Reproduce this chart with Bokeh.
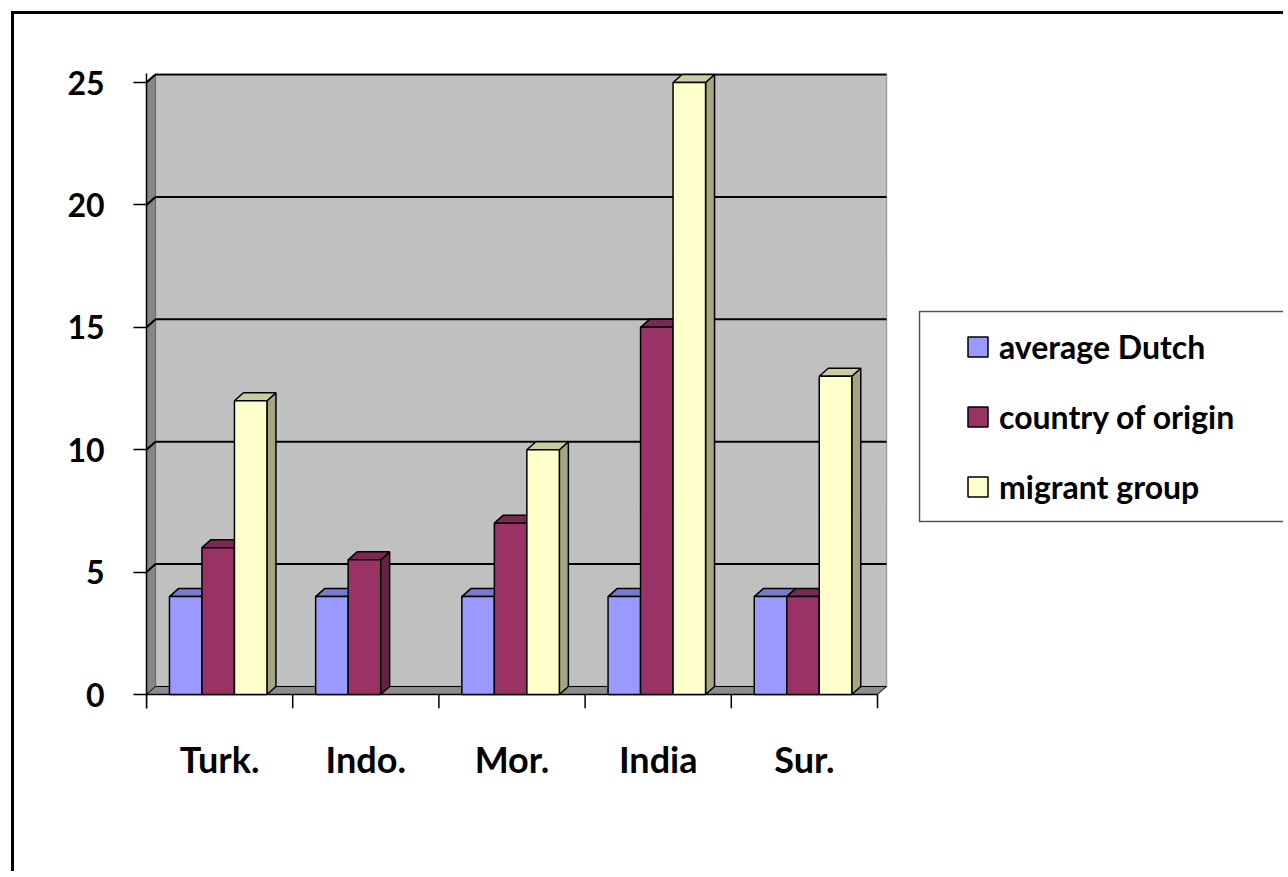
import math
from bokeh.plotting import figure
from bokeh.models import Range1d, FixedTicker, Legend, LegendItem
from bokeh.embed import file_html
from bokeh.resources import INLINE

# ---- data ----
categories = ["Turk.", "Indo.", "Mor.", "India", "Sur."]
average_dutch = [4, 4, 4, 4, 4]
country_of_origin = [6, 5.5, 7, 15, 4]
migrant_group = [12, float("nan"), 10, 25, 13]
series_names = ["average Dutch", "country of origin", "migrant group"]
y_ticks = [0, 5, 10, 15, 20, 25]

# ---- styles ----
front_colors = ["#9999FF", "#993366", "#FFFFCC"]
top_colors = ["#7A7ACC", "#7A2952", "#CCCCA3"]
side_colors = ["#6B6BB3", "#662244", "#A5A582"]
FONT = "Lato"

W, H = 1272, 860
FL, FT, FB = 132, 59, 694          # frame edges (figure px)
PXU_X, PXU_Y = 146.2, 24.48        # px per data unit
n = len(categories)
DX = 9 / PXU_X                     # 3D depth (x)
DY = 8 / PXU_Y                     # 3D depth (y)
y_top = 25.37
y_bot = -14 / PXU_Y
x_end = (W - FL) / PXU_X
wall_right = n + DX
BW = 0.2223
BOFF = 0.157

# legend box (px from frame left / from the y=0 line)
LEG_L, LEG_TOP, LEG_BOT = 773, 383, 173

p = figure(width=W, height=H, x_range=Range1d(0, x_end), y_range=Range1d(y_bot, y_top),
           output_backend="svg", toolbar_location=None,
           min_border_left=FL, min_border_top=FT, min_border_right=0,
           min_border_bottom=H - FB,
           styles={"border-top": "3px solid black", "border-left": "3px solid black",
                   "margin-left": "11px", "margin-top": "11px"})
p.outline_line_color = None
p.xgrid.visible = False
p.ygrid.visible = False
p.background_fill_color = "white"

# ---- 3D walls ----
p.quad(left=DX, right=wall_right, bottom=DY, top=y_top, fill_color="#C0C0C0",
       line_color="#A0A0A0", line_width=1.5)
p.patch(x=[0, DX, DX, 0], y=[0, DY, y_top, y_top - DY], fill_color="#858585",
        line_color="#6A6A6A", line_width=1)
gv = y_ticks[1:]
p.segment(x0=[0] * len(gv), y0=gv, x1=[DX] * len(gv), y1=[v + DY for v in gv],
          line_color="black", line_width=2)
p.segment(x0=[DX] * len(gv), y0=[v + DY for v in gv], x1=[wall_right] * len(gv),
          y1=[v + DY for v in gv], line_color="black", line_width=2)
p.patch(x=[0, n, n + DX, DX], y=[0, 0, DY, DY], fill_color="#8C8C8C",
        line_color="black", line_width=1)

# ---- category axis line and boundary ticks ----
bounds = list(range(n + 1))
p.segment(x0=[0], y0=[0], x1=[n], y1=[0], line_color="black", line_width=1.5)
p.segment(x0=bounds, y0=[0] * len(bounds), x1=bounds, y1=[y_bot] * len(bounds),
          line_color="black", line_width=1.5)

# ---- bars ----
series = [average_dutch, country_of_origin, migrant_group]
fronts = []
for k, vals in enumerate(series):
    L, R, T = [], [], []
    for i, v in enumerate(vals):
        if v is None or (isinstance(v, float) and math.isnan(v)):
            continue
        l = i + BOFF + k * BW
        L.append(l); R.append(l + BW); T.append(v)
    side_xs = [[r, r + DX, r + DX, r] for r in R]
    side_ys = [[0, DY, t + DY, t] for t in T]
    top_xs = [[l, r, r + DX, l + DX] for l, r in zip(L, R)]
    top_ys = [[t, t, t + DY, t + DY] for t in T]
    p.patches(xs=side_xs, ys=side_ys, fill_color=side_colors[k], line_color="black", line_width=1.5)
    p.patches(xs=top_xs, ys=top_ys, fill_color=top_colors[k], line_color="black", line_width=1.5)
    fr = p.quad(left=L, right=R, bottom=[0] * len(T), top=T, fill_color=front_colors[k],
                line_color="black", line_width=1.5)
    fronts.append(fr)

# ---- legend frame (box drawn behind the legend) ----
p.quad(left=LEG_L / PXU_X, right=x_end + 1, bottom=LEG_BOT / PXU_Y, top=LEG_TOP / PXU_Y,
       fill_color="white", line_color="#555555", line_width=1.5)

# ---- axes ----
p.xaxis.ticker = FixedTicker(ticks=[i + 0.5 for i in range(n)], minor_ticks=[])
p.xaxis.major_label_overrides = {i + 0.5: c for i, c in enumerate(categories)}
p.xaxis.major_tick_line_color = None
p.xaxis.major_tick_out = 0
p.xaxis.major_tick_in = 0
p.xaxis.axis_line_color = None
p.xaxis.major_label_standoff = 28
p.xaxis.major_label_text_font = FONT
p.xaxis.major_label_text_font_size = "36px"
p.xaxis.major_label_text_font_style = "bold"
p.xaxis.major_label_text_color = "black"

p.yaxis.ticker = FixedTicker(ticks=y_ticks, minor_ticks=[])
p.yaxis.major_tick_out = 13
p.yaxis.major_tick_in = 0
p.yaxis.major_tick_line_color = "black"
p.yaxis.major_tick_line_width = 1.5
p.yaxis.axis_line_color = "black"
p.yaxis.axis_line_width = 1.5
p.yaxis.major_label_standoff = 29
p.yaxis.major_label_text_font = FONT
p.yaxis.major_label_text_font_size = "32px"
p.yaxis.major_label_text_font_style = "bold"
p.yaxis.major_label_text_color = "black"

# ---- legend ----
items = [LegendItem(label=series_names[k], renderers=[fronts[k]]) for k in range(3)]
legend = Legend(items=items, location=(819, 202), orientation="vertical",
                glyph_width=25, glyph_height=25, label_standoff=9, label_width=200,
                label_height=25, spacing=31, padding=0, margin=0,
                border_line_color=None, background_fill_alpha=0,
                label_text_font=FONT, label_text_font_size="32px",
                label_text_font_style="bold", label_text_color="black")
p.add_layout(legend, "center")

open("out.html", "w").write(file_html(p, INLINE))
